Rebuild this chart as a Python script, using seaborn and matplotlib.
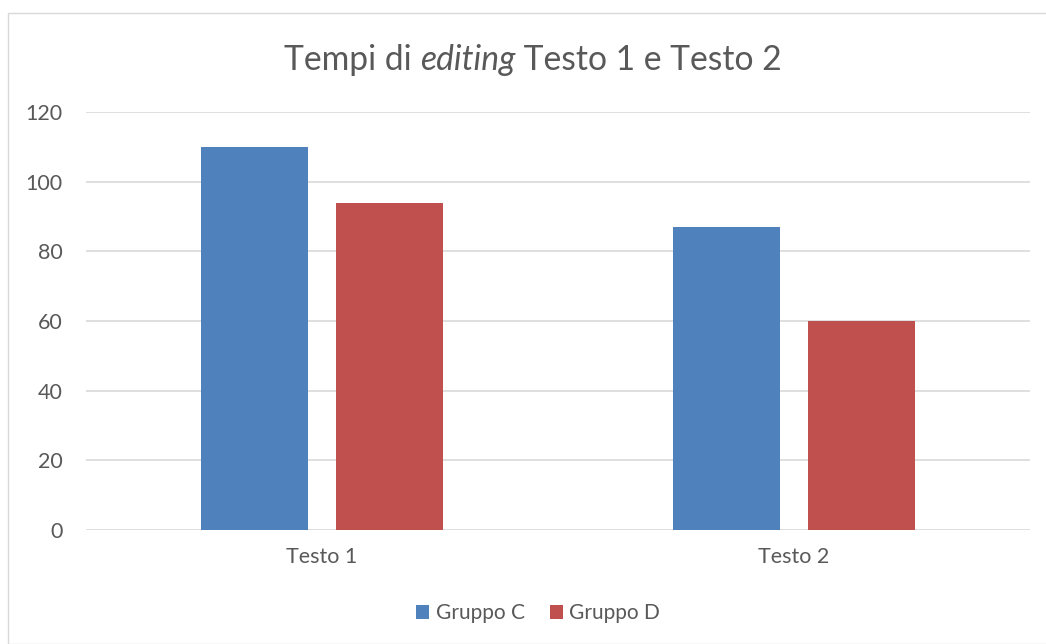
import matplotlib
matplotlib.use("Agg")
import matplotlib.pyplot as plt
import seaborn as sns
import pandas as pd
from matplotlib.patches import Rectangle

categories = ["Testo 1", "Testo 2"]
gruppo_c = [110, 87]
gruppo_d = [94, 60]
series_names = ["Gruppo C", "Gruppo D"]
yticks = [0, 20, 40, 60, 80, 100, 120]

df = pd.DataFrame({
    "testo": categories * 2,
    "valore": gruppo_c + gruppo_d,
    "gruppo": [series_names[0]] * 2 + [series_names[1]] * 2,
})

sns.set_theme(style="white")
plt.rcParams['font.family'] = ['Lato', 'DejaVu Sans']
TXT = "#595959"
BLUE = "#4F81BD"
RED = "#C0504D"

W, H = 1046, 644
fig = plt.figure(figsize=(W / 100, H / 100), dpi=100)
fig.patch.set_facecolor("white")
fig.patches.append(Rectangle((8 / W, 0), 1.2, (H - 13) / H, transform=fig.transFigure,
                             fill=False, edgecolor="#D9D9D9", linewidth=1.0))

ax = fig.add_axes([86 / W, 1 - 530 / H, (1030 - 86) / W, (530 - 112) / H])
sns.barplot(data=df, x="testo", y="valore", hue="gruppo", palette=[BLUE, RED],
            width=0.572, gap=0.21, ax=ax, linewidth=0, legend=False, saturation=1)
ax.set_ylim(0, 120)
ax.set_xlim(-0.5, 1.5)
ax.set_yticks(yticks)
ax.set_yticklabels([str(v) for v in yticks])
ax.yaxis.grid(True, color="#D9D9D9", linewidth=1.2)
ax.set_axisbelow(True)
for s in ax.spines.values():
    s.set_visible(False)
ax.tick_params(axis="y", length=0, pad=17, labelsize=15.5, labelcolor=TXT)
ax.tick_params(axis="x", length=0, pad=12, labelsize=15.5, labelcolor=TXT)
ax.set_xlabel("")
ax.set_ylabel("")

# Title with italic word
fig.canvas.draw()
renderer = fig.canvas.get_renderer()
parts = [("Tempi di ", "normal"), ("editing", "italic"), (" Testo 1 e Testo 2", "normal")]
texts = []
for s, st in parts:
    t = fig.text(0, 1 - 60 / H, s, fontsize=24.2, color=TXT, style=st, va="center", ha="left")
    texts.append(t)
widths = [t.get_window_extent(renderer).width for t in texts]
total = sum(widths)
x = 533 - total / 2
for t, w in zip(texts, widths):
    t.set_x(x / W)
    x += w

# Legend
handles = [Rectangle((0, 0), 1, 1, facecolor=c, edgecolor="none") for c in [BLUE, RED]]
fig.legend(handles, series_names, loc="center", bbox_to_anchor=(538 / W, 1 - 613 / H),
           ncol=2, frameon=False, fontsize=15, labelcolor=TXT, handlelength=0.65,
           handleheight=0.65, handletextpad=0.3, columnspacing=1.2)

fig.savefig("out.png", dpi=100)
